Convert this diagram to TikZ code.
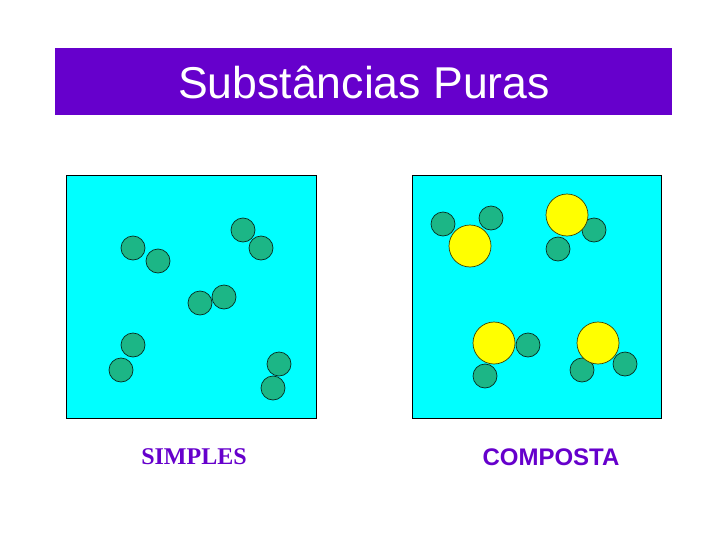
\documentclass[tikz,border=0pt]{standalone}
\usepackage{fontspec}
\setmainfont{Liberation Serif}
\setsansfont{Liberation Sans}
\definecolor{barpurple}{RGB}{102,0,204}
\definecolor{water}{RGB}{0,255,255}
\definecolor{atomgreen}{RGB}{28,182,134}
\definecolor{atomyellow}{RGB}{255,255,0}
\begin{document}
\begin{tikzpicture}
      [x=1pt,y=-1pt,
       box/.style={draw=black,line width=0.8pt,fill=water},
       small/.style={circle,draw=black!75!atomgreen,line width=0.7pt,fill=atomgreen,
                     minimum size=24pt,inner sep=0pt},
       big/.style={circle,draw=black!75!atomyellow,line width=0.7pt,fill=atomyellow,
                   minimum size=42pt,inner sep=0pt},
       label/.style={text=barpurple}]
      \useasboundingbox (0,0) rectangle (728,546);
      % title
      \fill[barpurple] (55,48) rectangle (672,115);
      \node[text=white,font=\sffamily\fontsize{44.6}{52}\selectfont] (title) at (364,82) {Substâncias Puras};
      % boxes
      \draw[box] (66,175) rectangle (316,418);
      \draw[box] (412,175) rectangle (661,418);
      % simple substance: pairs of equal atoms
      \node[small] (s1) at (133,248) {};
      \node[small] (s2) at (158,261) {};
      \node[small] (s3) at (243,230) {};
      \node[small] (s4) at (261,248) {};
      \node[small] (s5) at (200,303) {};
      \node[small] (s6) at (224,297) {};
      \node[small] (s7) at (133,345) {};
      \node[small] (s8) at (121,370) {};
      \node[small] (s9) at (279,364) {};
      \node[small] (s10) at (273,388) {};
      % compound: one big atom, two small ones
      \node[small] (c1) at (443,224) {};
      \node[small] (c2) at (491,218) {};
      \node[small] (c3) at (594,230) {};
      \node[small] (c4) at (558,249) {};
      \node[small] (c5) at (528,345) {};
      \node[small] (c6) at (485,376) {};
      \node[small] (c7) at (582,370) {};
      \node[small] (c8) at (625,364) {};
      \node[big] (y1) at (470,246) {};
      \node[big] (y2) at (567,215) {};
      \node[big] (y3) at (494,343) {};
      \node[big] (y4) at (598,343) {};
      % captions
      \node[label,font=\rmfamily\bfseries\fontsize{24}{28}\selectfont] (simples) at (194,457) {SIMPLES};
      \node[label,font=\sffamily\bfseries\fontsize{24}{28}\selectfont] (composta) at (551,457) {COMPOSTA};
\end{tikzpicture}
\end{document}
